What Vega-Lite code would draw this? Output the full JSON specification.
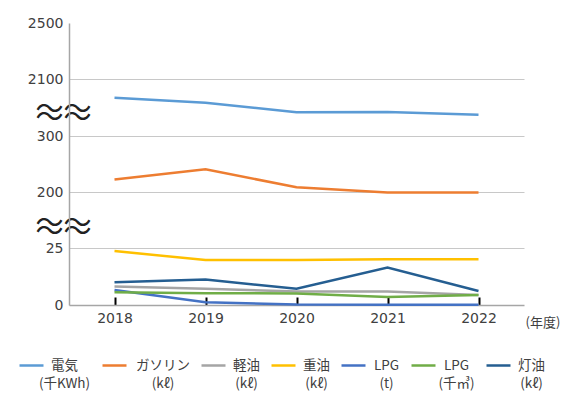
{
  "$schema": "https://vega.github.io/schema/vega-lite/v6.json",
  "width": 455,
  "height": 282,
  "autosize": "none",
  "padding": {"left": 69, "top": 23, "right": 41, "bottom": 94},
  "background": "white",
  "config": {"view": {"stroke": null}},
  "data": {"values": [
    {"year": "2018", "s": "電気|(千KWh)", "v": 1519},
    {"year": "2019", "s": "電気|(千KWh)", "v": 1361},
    {"year": "2020", "s": "電気|(千KWh)", "v": 1058},
    {"year": "2021", "s": "電気|(千KWh)", "v": 1067},
    {"year": "2022", "s": "電気|(千KWh)", "v": 982},
    {"year": "2018", "s": "ガソリン|(kℓ)", "v": 223},
    {"year": "2019", "s": "ガソリン|(kℓ)", "v": 241},
    {"year": "2020", "s": "ガソリン|(kℓ)", "v": 209},
    {"year": "2021", "s": "ガソリン|(kℓ)", "v": 199},
    {"year": "2022", "s": "ガソリン|(kℓ)", "v": 199},
    {"year": "2018", "s": "軽油|(kℓ)", "v": 8.2},
    {"year": "2019", "s": "軽油|(kℓ)", "v": 7.2},
    {"year": "2020", "s": "軽油|(kℓ)", "v": 5.9},
    {"year": "2021", "s": "軽油|(kℓ)", "v": 5.9},
    {"year": "2022", "s": "軽油|(kℓ)", "v": 4.4},
    {"year": "2018", "s": "重油|(kℓ)", "v": 23.8},
    {"year": "2019", "s": "重油|(kℓ)", "v": 19.8},
    {"year": "2020", "s": "重油|(kℓ)", "v": 19.8},
    {"year": "2021", "s": "重油|(kℓ)", "v": 20.2},
    {"year": "2022", "s": "重油|(kℓ)", "v": 20.2},
    {"year": "2018", "s": "LPG|(t)", "v": 6.6},
    {"year": "2019", "s": "LPG|(t)", "v": 1.2},
    {"year": "2020", "s": "LPG|(t)", "v": 0.2},
    {"year": "2021", "s": "LPG|(t)", "v": 0.1},
    {"year": "2022", "s": "LPG|(t)", "v": 0.1},
    {"year": "2018", "s": "LPG|(千㎥)", "v": 5.6},
    {"year": "2019", "s": "LPG|(千㎥)", "v": 5.2},
    {"year": "2020", "s": "LPG|(千㎥)", "v": 5.1},
    {"year": "2021", "s": "LPG|(千㎥)", "v": 3.5},
    {"year": "2022", "s": "LPG|(千㎥)", "v": 4.4},
    {"year": "2018", "s": "灯油|(kℓ)", "v": 10.0},
    {"year": "2019", "s": "灯油|(kℓ)", "v": 11.2},
    {"year": "2020", "s": "灯油|(kℓ)", "v": 7.2},
    {"year": "2021", "s": "灯油|(kℓ)", "v": 16.5},
    {"year": "2022", "s": "灯油|(kℓ)", "v": 6.2}
  ]},
  "mark": {"type": "line", "strokeWidth": 2.5},
  "encoding": {
    "x": {
      "field": "year", "type": "ordinal",
      "scale": {"type": "point", "padding": 0.5},
      "axis": {
        "labelAngle": 0,
        "labelFont": "DejaVu Sans", "labelFontSize": 14, "labelColor": "#404040",
        "labelPadding": 14,
        "domainColor": "#a6a6a6", "domainWidth": 1.5,
        "tickColor": "#000000", "tickWidth": 2, "tickSize": -8,
        "title": "(年度)",
        "titleFont": "Noto Sans CJK JP", "titleFontSize": 13, "titleFontWeight": "normal",
        "titleColor": "#404040", "titleAngle": 0, "titleAlign": "left", "titleBaseline": "middle",
        "titleX": 456, "titleY": 17
      }
    },
    "y": {
      "field": "v", "type": "quantitative",
      "scale": {"type": "linear", "domain": [0, 25, 200, 300, 2100, 2500], "range": [282, 225.3, 169.3, 113.3, 56.3, 0], "nice": false, "zero": false},
      "axis": {
        "title": null,
        "values": [0, 25, 98, 200, 300, 1100, 2100, 2500],
        "format": "d",
        "labelExpr": "datum.value == 1100 || datum.value == 98 ? ['〜〜', '〜〜'] : datum.label",
        "labelAlign": {"expr": "datum.value == 1100 || datum.value == 98 ? 'center' : 'right'"},
        "labelFontSize": {"expr": "datum.value == 1100 || datum.value == 98 ? 28 : 14"},
        "labelColor": {"expr": "datum.value == 1100 || datum.value == 98 ? '#222222' : '#404040'"},
        "labelFont": "DejaVu Sans, Noto Sans CJK JP",
        "labelLineHeight": 8,
        "labelPadding": 6,
        "labelOverlap": false,
        "labelFlush": false,
        "ticks": false,
        "domainColor": "#a6a6a6", "domainWidth": 1.5,
        "gridColor": "#c8c8c8", "gridWidth": 1,
        "gridOpacity": {"expr": "datum.value == 2100 || datum.value == 300 || datum.value == 200 || datum.value == 25 ? 1 : 0"}
      }
    },
    "color": {
      "field": "s", "type": "nominal",
      "scale": {
        "domain": ["電気|(千KWh)", "ガソリン|(kℓ)", "軽油|(kℓ)", "重油|(kℓ)", "LPG|(t)", "LPG|(千㎥)", "灯油|(kℓ)"],
        "range": ["#5b9bd5", "#ed7d31", "#a5a5a5", "#ffc000", "#4472c4", "#70ad47", "#255e91"]
      },
      "legend": {
        "title": null,
        "orient": "none",
        "legendX": -51,
        "legendY": 329,
        "direction": "horizontal",
        "columns": 7,
        "gridAlign": "none",
        "columnPadding": 6,
        "symbolType": "stroke",
        "symbolSize": 576,
        "symbolStrokeWidth": 2.5,
        "labelFont": "Noto Sans CJK JP",
        "labelFontSize": 13.5,
        "labelColor": "#404040",
        "labelAlign": "center",
        "labelOffset": 19.5,
        "labelExpr": "split(datum.label, '|')",
        "labelLimit": 200,
        "encode": {"labels": {"update": {"lineHeight": {"value": 18}, "dx": {"signal": "datum.value == 'ガソリン|(kℓ)' ? 15.5 : 0"}}}}
      }
    }
  }
}
